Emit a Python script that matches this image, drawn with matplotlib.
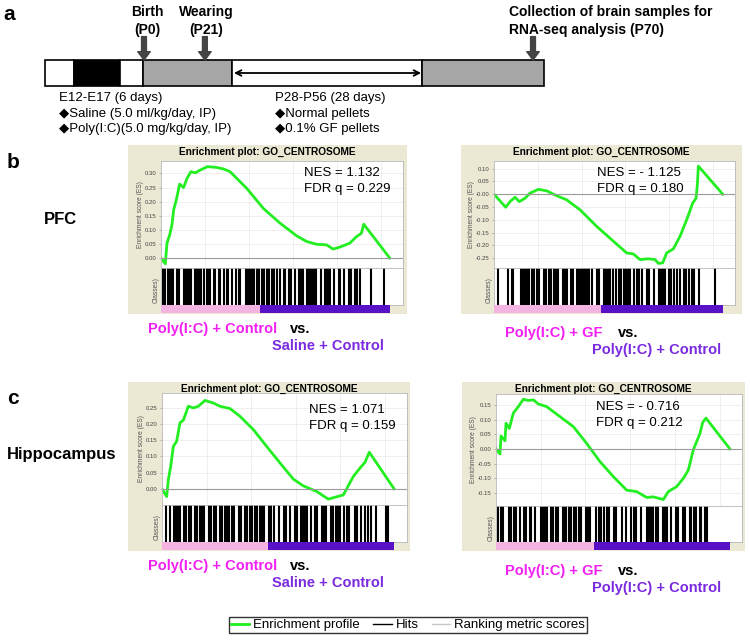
import numpy as np
import matplotlib
matplotlib.use('Agg')
import matplotlib.pyplot as plt
from matplotlib.lines import Line2D

plt.rcParams['font.family'] = ['Liberation Sans', 'DejaVu Sans']

W, H = 750, 643

# ---------------- data ----------------
# timeline (a): segment edges on a 0..1 schematic scale
seg_edges = [0.0, 0.059, 0.151, 0.197, 0.375, 0.756, 1.0]
event_pos = [0.199, 0.321, 0.978]          # birth, weaning, collection
pellet_span = [0.379, 0.754]               # P28-P56

# GSEA curves (gene rank, enrichment score)
pfc_ctrl_rank = [0, 491, 680, 982, 1246, 1435, 1737, 2115, 2568, 2946, 3400, 3890, 4457,
                 5288, 6345, 7100, 7856, 9745, 11633, 13522, 15410, 16543, 17676, 18810,
                 19565, 20320, 21453, 22209, 22775, 23040, 26000]
pfc_ctrl_es = [0.0, -0.02, 0.053, 0.082, 0.118, 0.17, 0.206, 0.262, 0.25, 0.282, 0.306, 0.302,
               0.312, 0.324, 0.321, 0.316, 0.306, 0.247, 0.176, 0.124, 0.079, 0.059, 0.049,
               0.047, 0.032, 0.039, 0.053, 0.076, 0.088, 0.12, 0.0]
pfc_gf_rank = [0, 1331, 1826, 2397, 2891, 3538, 4108, 5059, 6010, 7152, 8293, 9814, 11716,
               13618, 15140, 15900, 16661, 17612, 18373, 18753, 19248, 19705, 20466, 21226,
               21987, 22672, 23052, 23204, 23318, 26100]
pfc_gf_es = [0.0, -0.051, -0.029, -0.012, -0.029, -0.016, 0.004, 0.019, 0.013, -0.006, -0.022,
             -0.061, -0.126, -0.184, -0.23, -0.234, -0.256, -0.253, -0.256, -0.271, -0.269,
             -0.23, -0.214, -0.165, -0.1, -0.035, -0.016, 0.036, 0.11, 0.0]
hip_ctrl_rank = [0, 524, 711, 973, 1272, 1646, 2020, 2394, 2955, 3517, 4078, 4826, 5761, 6509,
                 7631, 8754, 10250, 11747, 13243, 14740, 15862, 17358, 18668, 19416, 20351,
                 21473, 22222, 22783, 23269, 26050]
hip_ctrl_es = [0.0, -0.024, 0.028, 0.069, 0.131, 0.147, 0.204, 0.212, 0.255, 0.25, 0.255, 0.273,
               0.265, 0.255, 0.248, 0.224, 0.183, 0.131, 0.08, 0.03, 0.009, -0.008, -0.032,
               -0.026, -0.019, 0.038, 0.064, 0.082, 0.113, 0.0]
hip_gf_rank = [0, 447, 559, 1006, 1118, 1490, 1938, 2496, 3055, 3614, 4173, 4732, 5664, 7154,
               8644, 10135, 11625, 13116, 14606, 15724, 16842, 17587, 18704, 19263, 20195,
               20940, 21499, 22058, 22803, 23101, 23474, 26150]
hip_gf_es = [0.0, -0.017, 0.044, 0.028, 0.0875, 0.07, 0.122, 0.144, 0.169, 0.165, 0.167, 0.153,
             0.144, 0.11, 0.076, 0.019, -0.043, -0.094, -0.14, -0.145, -0.165, -0.163, -0.172,
             -0.145, -0.128, -0.1, -0.072, -0.003, 0.053, 0.09, 0.105, 0.0]

# hit positions (gene rank)
pfc_ctrl_hits = [230, 420, 800, 990, 1250, 1400, 1820, 1930, 2050, 2620, 2770, 2920, 3070, 3260,
                 3410, 3830, 3940, 4060, 4360, 4510, 4850, 5230, 5340, 5460, 5610, 6030, 6180,
                 6600, 6750, 7130, 7510, 7660, 8040, 8530, 8830, 8980, 9670, 9820, 9970, 10120,
                 10270, 10420, 10570, 10950, 11100, 11520, 11670, 12090, 12280, 12660, 12810,
                 13230, 13490, 14000, 14140, 14520, 14670, 14820, 15200, 15650, 15800, 15960,
                 16180, 16640, 16790, 16940, 17170, 17400, 17620, 18150, 18690, 18840, 18990,
                 19220, 19630, 20240, 20350, 20810, 21340, 21570, 22020, 22250, 22630, 23910, 25320]
pfc_gf_hits = [494, 1634, 2014, 2204, 3040, 3268, 3534, 3800, 4028, 4294, 4560, 4940, 5168, 5700,
               5928, 6308, 6536, 6840, 7068, 7334, 7828, 8056, 8284, 8740, 8968, 9424, 9652, 9880,
               10108, 10336, 10564, 10868, 11134, 11780, 12008, 12540, 12768, 13034, 13224, 13604,
               13908, 14288, 14478, 14820, 15048, 15276, 15504, 15960, 16264, 16568, 16872, 17480,
               17708, 18240, 18810, 19038, 19266, 19532, 19988, 20254, 20520, 20938, 21204, 21698,
               21964, 22268, 22648, 22876, 23408, 25194]
hip_ctrl_hits = [486, 860, 1309, 1533, 1758, 1982, 2431, 2655, 2992, 3291, 3740, 3927, 4301, 4525,
                 4750, 5236, 5460, 5797, 6021, 6545, 6769, 7106, 7330, 7555, 7854, 8078, 8602,
                 8826, 9275, 9537, 9911, 10135, 10472, 10696, 11033, 11220, 11444, 12005, 12267,
                 12529, 13090, 13689, 13875, 14399, 14960, 15184, 15558, 15820, 16082, 16306,
                 16680, 17204, 17428, 17952, 18176, 18401, 18924, 19149, 19487, 19747, 19934,
                 20420, 20795, 21018, 21692, 21916, 22290, 22739, 23113, 23487, 24048, 25170, 25357]
hip_gf_hits = [262, 523, 821, 1455, 1642, 2015, 2238, 2686, 3134, 3357, 3805, 3954, 4327, 5000,
               5222, 5446, 5670, 6118, 6341, 6677, 6901, 7460, 7684, 7871, 8206, 8393, 8729, 8953,
               9325, 9512, 10071, 10295, 10482, 11153, 11526, 11750, 12086, 12459, 12683, 13242,
               13429, 14137, 14510, 15070, 15443, 15666, 16189, 16935, 17158, 17383, 17569, 17867,
               18128, 18614, 18837, 19061, 19546, 20143, 20329, 20889, 21150, 21634, 21821, 22157,
               22381, 22754, 22940, 23388, 23574]

# class bar: rank where phenotype switches, and list size
split_rank = [11250, 12170, 11900, 10960]
list_size = [26000, 26100, 26050, 26150]

nes_values = [1.132, -1.125, 1.071, -0.716]
fdr_values = [0.229, 0.180, 0.159, 0.212]

group_a = ['Poly(I:C) + Control', 'Poly(I:C) + GF', 'Poly(I:C) + Control', 'Poly(I:C) + GF']
group_b = ['Saline + Control', 'Poly(I:C) + Control', 'Saline + Control', 'Poly(I:C) + Control']

# ---------------- styles ----------------
BEIGE = '#ebe8d3'
GREEN = '#22ee22'
PINK = '#f5b3e2'
PURPLE = '#5811c6'
MAGENTA = '#f21ff2'
VIOLET = '#7a2be0'
XMAX = 27500


def fbox(x0, y0, x1, y1):
    return [x0 / W, 1 - y1 / H, (x1 - x0) / W, (y1 - y0) / H]


def ftext(x, y, s, **kw):
    kw.setdefault('va', 'center')
    fig.text(x / W, 1 - y / H, s, **kw)


fig = plt.figure(figsize=(7.5, 6.43), dpi=100)

# ---------------- panel a: timeline ----------------
tl = fig.add_axes(fbox(44.6, 60, 544, 86))
tl.set_xlim(0, 1)
tl.set_ylim(0, 1)
tl.axis('off')
seg_colors = ['white', 'black', 'white', '#a6a6a6', 'white', '#a6a6a6']
tl.barh(0.5, np.diff(seg_edges), left=seg_edges[:-1], height=1.0, color=seg_colors,
        edgecolor='black', linewidth=1.2, clip_on=False)
tl.annotate('', xy=(pellet_span[0], 0.5), xytext=(pellet_span[1], 0.5),
            arrowprops=dict(arrowstyle='<->', lw=1.3, color='black', shrinkA=0, shrinkB=0))
for x in event_pos:
    tl.annotate('', xy=(x, 1.0), xytext=(x, 1.9), annotation_clip=False,
                arrowprops=dict(arrowstyle='simple,head_width=0.9,head_length=0.6,tail_width=0.35',
                                color='#444444', shrinkA=0, shrinkB=0))

ftext(9, 14, 'a', fontsize=15, fontweight='bold', ha='center')
ftext(147, 12, 'Birth', fontsize=10, fontweight='bold', ha='center')
ftext(147, 30, '(P0)', fontsize=10, fontweight='bold', ha='center')
ftext(206, 12, 'Wearing', fontsize=10, fontweight='bold', ha='center')
ftext(206, 30, '(P21)', fontsize=10, fontweight='bold', ha='center')
ftext(509, 12, 'Collection of brain samples for', fontsize=10, fontweight='bold')
ftext(509, 30, 'RNA-seq analysis (P70)', fontsize=10, fontweight='bold')

ftext(59, 98, 'E12-E17 (6 days)', fontsize=9.5)
ftext(59, 114, '◆Saline (5.0 ml/kg/day, IP)', fontsize=9.5)
ftext(59, 129, '◆Poly(I:C)(5.0 mg/kg/day, IP)', fontsize=9.5)
ftext(275, 98, 'P28-P56 (28 days)', fontsize=9.5)
ftext(275, 114, '◆Normal pellets', fontsize=9.5)
ftext(275, 129, '◆0.1% GF pellets', fontsize=9.5)

# ---------------- panels b, c: GSEA plots ----------------
layouts = [
    dict(frame=(128, 145, 407, 314), plot=(161, 161, 403, 268, 305, 313), ylim=(-0.035, 0.344),
         yt=np.arange(0, 0.31, 0.05), stat=(304, 173), lab=(148, 329, 290, 272, 346)),
    dict(frame=(461, 145, 742, 314), plot=(494, 161, 735, 268, 305, 313), ylim=(-0.289, 0.130),
         yt=np.arange(-0.25, 0.11, 0.05), stat=(597, 173), lab=(505, 333, 618, 592, 350)),
    dict(frame=(128, 382, 410, 551), plot=(162, 393, 407, 505, 542, 550), ylim=(-0.05, 0.296),
         yt=np.arange(0, 0.26, 0.05), stat=(309, 410), lab=(148, 566, 290, 272, 583)),
    dict(frame=(462, 382, 745, 551), plot=(496, 394, 742, 506, 542, 550), ylim=(-0.194, 0.187),
         yt=np.arange(-0.15, 0.16, 0.05), stat=(596, 407), lab=(505, 571, 618, 592, 588)),
]
curves = [(pfc_ctrl_rank, pfc_ctrl_es, pfc_ctrl_hits), (pfc_gf_rank, pfc_gf_es, pfc_gf_hits),
          (hip_ctrl_rank, hip_ctrl_es, hip_ctrl_hits), (hip_gf_rank, hip_gf_es, hip_gf_hits)]

for i, (lay, (rank, es, hits)) in enumerate(zip(layouts, curves)):
    fx0, fy0, fx1, fy1 = lay['frame']
    px0, py0, px1, py_es, py_hit, py_cls = lay['plot']

    bg = fig.add_axes(fbox(fx0, fy0, fx1, fy1), zorder=0)
    bg.set_facecolor(BEIGE)
    bg.set_xticks([])
    bg.set_yticks([])
    for s in bg.spines.values():
        s.set_visible(False)
    ftext((fx0 + fx1) / 2, fy0 + 7, 'Enrichment plot: GO_CENTROSOME', fontsize=7.3,
          fontweight='bold', ha='center')

    # enrichment score
    ax = fig.add_axes(fbox(px0, py0, px1, py_es), zorder=1)
    ax.set_facecolor('white')
    ax.plot(rank, es, color=GREEN, lw=2.0, solid_joinstyle='round')
    ax.axhline(0, color='#9a9a9a', lw=0.8)
    ax.set_xlim(0, XMAX)
    ax.set_ylim(*lay['ylim'])
    yt = np.round(lay['yt'], 2)
    ax.set_yticks(yt)
    ax.set_yticklabels([f'{v:.2f}' for v in yt], fontsize=4.3, color='#444444')
    ax.set_xticks(np.arange(5000, XMAX, 5000))
    ax.set_xticklabels([])
    ax.tick_params(length=1.5, width=0.4, pad=1.5, color='#888888')
    ax.tick_params(axis='x', length=0)
    ax.grid(True, color='#ececec', lw=0.6)
    ax.set_axisbelow(True)
    for s in ax.spines.values():
        s.set_color('#b8b8b8')
        s.set_linewidth(0.6)
    ax.set_ylabel('Enrichment score (ES)', fontsize=4.8, color='#555555', labelpad=0.5)

    sx, sy = lay['stat']
    sign = '- ' if nes_values[i] < 0 else ''
    ftext(sx, sy, f'NES = {sign}{abs(nes_values[i]):.3f}', fontsize=9.5)
    ftext(sx, sy + 16, f'FDR q = {fdr_values[i]:.3f}', fontsize=9.5)

    # hits
    ah = fig.add_axes(fbox(px0, py_es, px1, py_hit), zorder=1)
    ah.vlines(hits, 0, 1, color='black', lw=1.5)
    ah.set_xlim(0, XMAX)
    ah.set_ylim(0, 1)
    ah.set_xticks([])
    ah.set_yticks([])
    for s in ah.spines.values():
        s.set_color('#b8b8b8')
        s.set_linewidth(0.6)

    # class bar
    ac = fig.add_axes(fbox(px0, py_hit, px1, py_cls), zorder=1)
    ac.axvspan(0, split_rank[i], color=PINK, lw=0)
    ac.axvspan(split_rank[i], list_size[i], color=PURPLE, lw=0)
    ac.set_xlim(0, XMAX)
    ac.set_ylim(0, 1)
    ac.axis('off')
    ftext(px0 - 5, (py_es + py_cls) / 2, 'Classes)', fontsize=4.8, color='#555555',
          rotation=90, ha='center')

    # group labels
    lx, ly, vx, bx, by = lay['lab']
    ftext(lx, ly, group_a[i], fontsize=10.5, fontweight='bold', color=MAGENTA)
    ftext(vx, ly, 'vs.', fontsize=10.5, fontweight='bold', color='black')
    ftext(bx, by, group_b[i], fontsize=10.5, fontweight='bold', color=VIOLET)

ftext(13, 163, 'b', fontsize=15, fontweight='bold', ha='center')
ftext(60, 220, 'PFC', fontsize=12, fontweight='bold', ha='center')
ftext(13, 398, 'c', fontsize=15, fontweight='bold', ha='center')
ftext(62, 455, 'Hippocampus', fontsize=12, fontweight='bold', ha='center')

# legend
handles = [Line2D([], [], color=GREEN, lw=2),
           Line2D([], [], color='black', lw=1),
           Line2D([], [], color='#c8c8c8', lw=1)]
labels = ['Enrichment profile', 'Hits', 'Ranking metric scores']
leg = fig.legend(handles, labels, loc='center', bbox_to_anchor=(408 / W, 1 - 625 / H), ncol=3,
                 frameon=True, fancybox=False, edgecolor='black', fontsize=9.5,
                 handlelength=1.4, handletextpad=0.3, columnspacing=1.0, borderpad=0.15,
                 borderaxespad=0)
leg.get_frame().set_linewidth(1.0)

fig.savefig('out.png', dpi=100)
